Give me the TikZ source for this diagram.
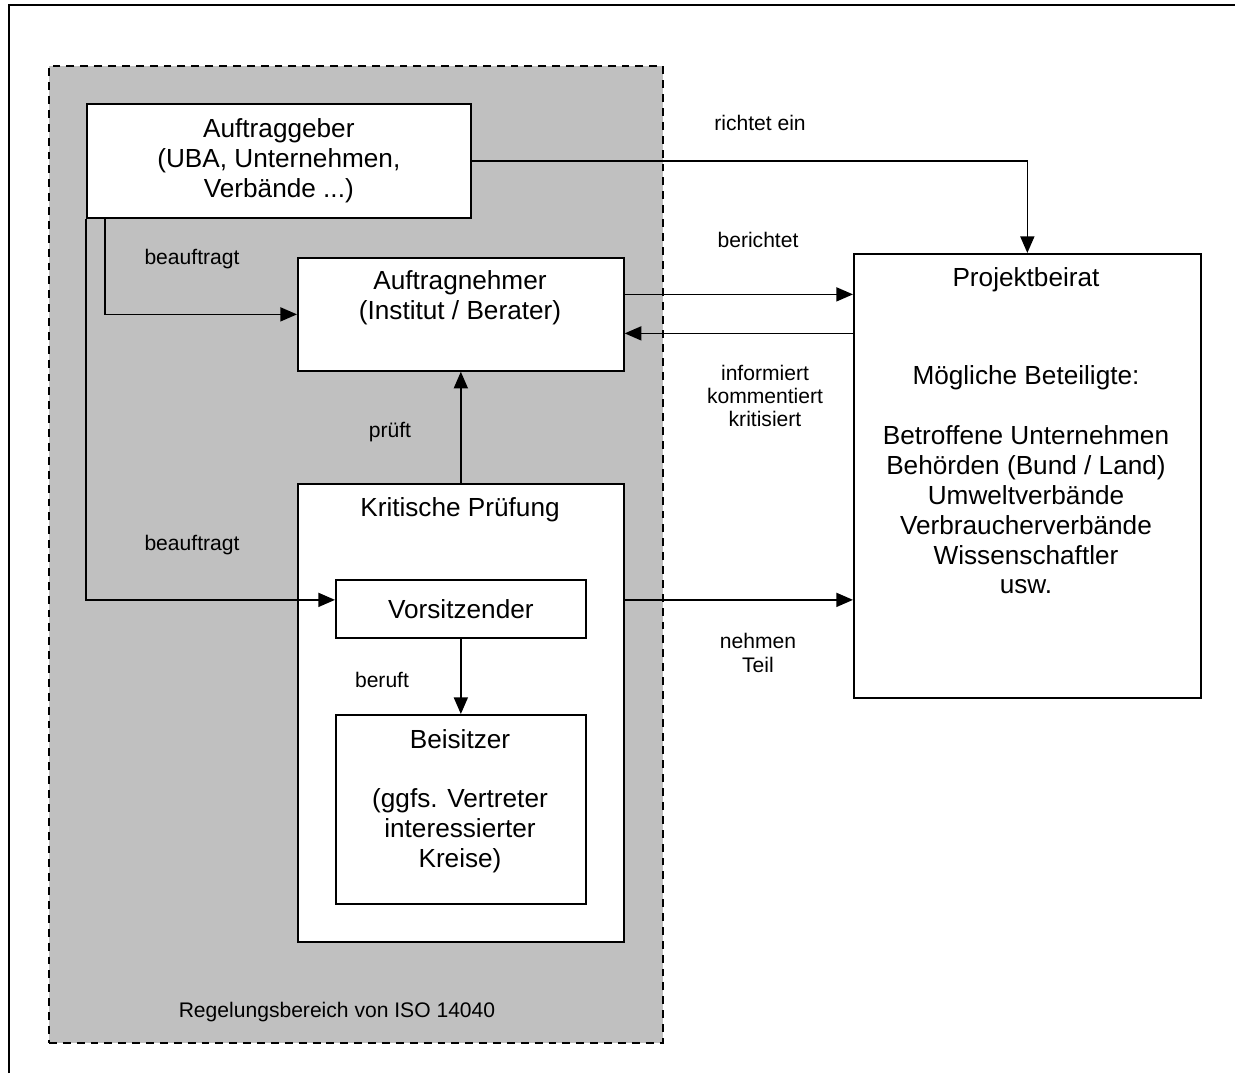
\documentclass[tikz,border=0pt]{standalone}
\usepackage{fontspec}
\setmainfont{Liberation Sans}
\usetikzlibrary{arrows.meta,calc}

\definecolor{bereichgrau}{HTML}{C0C0C0}

\tikzset{
  box/.style={draw, fill=white, line width=1pt, anchor=north west, inner sep=0pt},
  txt/.style={font=\fontsize{14.9}{17}\selectfont, align=center, inner sep=0pt},
  lbl/.style={font=\fontsize{12}{13.2}\selectfont, align=center, inner sep=0pt},
  arr/.style={line width=0.9pt, -{Triangle[length=9.5pt,width=8pt]}},
}

\begin{document}
\begin{tikzpicture}[x=0.02cm,y=-0.02cm]
\useasboundingbox (0,0) rectangle (1235,1073);
\draw[line width=1pt] (9,1073) -- (9,5) -- (1235,5);

\node[draw, dashed, dash pattern=on 4.5pt off 3.4pt, line width=1pt, fill=bereichgrau,
      anchor=north west, minimum width=12.28cm, minimum height=19.54cm] (bereich) at (48,65) {};
\node[lbl] (iso) at (337,1012) {Regelungsbereich von ISO 14040};

\node[box, minimum width=7.68cm, minimum height=2.28cm, txt] (geber) at (86,103)
  {Auftraggeber\\(UBA, Unternehmen,\\Verbände ...)};
\node[box, minimum width=6.52cm, minimum height=2.26cm] (nehmer) at (297,257) {};
\node[txt] (nehmertext) at (460,298) {Auftragnehmer\\(Institut / Berater)};
\node[box, minimum width=6.52cm, minimum height=9.16cm] (krit) at (297,483) {};
\node[txt] (krittext) at (460,510) {Kritische Prüfung};
\node[box, minimum width=5cm, minimum height=1.16cm, txt] (vors) at (335,579) {Vorsitzender};
\node[box, minimum width=5cm, minimum height=3.78cm] (beis) at (335,714) {};
\node[txt] (beistext) at (460,801) {Beisitzer\\[17pt](ggfs. Vertreter\\interessierter\\Kreise)};
\node[box, minimum width=6.94cm, minimum height=8.88cm] (beirat) at (853,253) {};
\node[txt] (beirattitel) at (1026,280) {Projektbeirat};
\node[txt] (beiratliste) at (1026,480) {Mögliche Beteiligte:\\[17pt]Betroffene Unternehmen\\Behörden (Bund / Land)\\Umweltverbände\\Verbraucherverbände\\Wissenschaftler\\usw.};

\node[lbl] (richtet) at (760,123) {richtet ein};
\node[lbl] (berichtet) at (758,240) {berichtet};
\node[lbl] (informiert) at (765,396) {informiert\\kommentiert\\kritisiert};
\node[lbl] (teil) at (758,653) {nehmen\\Teil};
\node[lbl] (auftrag1) at (192,259) {beauftragt};
\node[lbl] (auftrag2) at (192,545) {beauftragt};
\node[lbl] (prueft) at (390,432) {prüft};
\node[lbl] (beruft) at (382,680) {beruft};

\coordinate (vorsin) at ($(vors.west)+(0,-9)$);
\coordinate (bericht) at ($(nehmer.east)+(0,-20)$);
\coordinate (info) at ($(nehmer.east)+(0,19)$);

\path[draw,arr] (geber.east) -| (beirat.north);
\path[draw,arr] ($(geber.south west)+(19,0)$) |- (nehmer.west);
\path[draw,arr] (geber.south west) |- (vorsin);
\path[draw,arr] (bericht) -- (bericht -| beirat.west);
\path[draw,arr] (info -| beirat.west) -- (info);
\path[draw,arr] (krit.north) -- (nehmer.south);
\path[draw,arr] (krit.east |- vorsin) -- (beirat.west |- vorsin);
\path[draw,arr] (vors.south) -- (beis.north);
\end{tikzpicture}
\end{document}
